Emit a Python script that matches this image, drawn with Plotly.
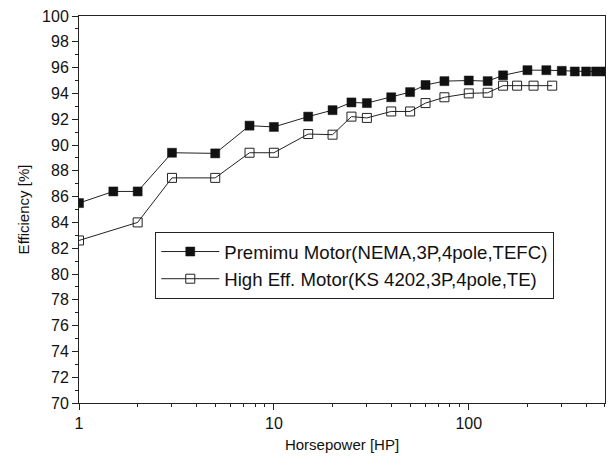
import plotly.graph_objects as go

# Premium motor (NEMA, 3P, 4pole, TEFC)
premium_hp = [1, 1.5, 2, 3, 5, 7.5, 10, 15, 20, 25, 30, 40, 50, 60, 75, 100, 125,
              150, 200, 250, 300, 350, 400, 450, 500]
premium_eff = [85.5, 86.4, 86.4, 89.4, 89.35, 91.5, 91.4, 92.2, 92.7, 93.3, 93.25,
               93.7, 94.1, 94.65, 94.95, 95.0, 94.95, 95.4, 95.8, 95.8, 95.75,
               95.7, 95.7, 95.7, 95.7]

# High efficiency motor (KS 4202, 3P, 4pole, TE)
higheff_hp = [1, 2, 3, 5, 7.5, 10, 15, 20, 25, 30, 40, 50, 60, 75, 100, 125,
              150, 177, 215, 268]
higheff_eff = [82.6, 84.0, 87.45, 87.45, 89.4, 89.4, 90.85, 90.8, 92.2, 92.1,
               92.6, 92.6, 93.25, 93.7, 94.0, 94.05, 94.6, 94.6, 94.6, 94.6]

x_tickvals = [1, 10, 100]
y_range = [70, 100]

font_family = "Liberation Sans, Arial, sans-serif"

fig = go.Figure()
fig.add_trace(go.Scatter(
    x=premium_hp, y=premium_eff, mode="lines+markers",
    name="Premimu Motor(NEMA,3P,4pole,TEFC)",
    line=dict(color="#222222", width=1),
    marker=dict(symbol="square", size=9, color="#111111",
                line=dict(color="#111111", width=0.5)),
))
fig.add_trace(go.Scatter(
    x=higheff_hp, y=higheff_eff, mode="lines+markers",
    name="High Eff. Motor(KS 4202,3P,4pole,TE)",
    line=dict(color="#222222", width=1),
    marker=dict(symbol="square-open", size=9, color="#222222",
                line=dict(color="#222222", width=1)),
))

fig.update_layout(
    width=611, height=468,
    margin=dict(l=79, r=6, t=16, b=65),
    paper_bgcolor="white", plot_bgcolor="white",
    font=dict(family=font_family, size=16, color="#111111"),
    showlegend=True,
    legend=dict(
        x=0.145, y=0.442, xanchor="left", yanchor="top",
        bgcolor="white", bordercolor="#222222", borderwidth=1,
        font=dict(size=18.6, family=font_family, color="#111111"),
        tracegroupgap=0, itemwidth=58,
    ),
)

fig.update_xaxes(
    type="log", range=[0, 2.699],
    tickvals=x_tickvals, ticktext=[str(v) for v in x_tickvals],
    ticks="outside", ticklen=6, tickwidth=1, tickcolor="#222222",
    minor=dict(dtick="D1", ticks="outside", ticklen=3, tickcolor="#222222",
               showgrid=False),
    showline=True, linecolor="#222222", linewidth=1, mirror=True,
    showgrid=False, zeroline=False,
    title=dict(text="Horsepower [HP]", font=dict(size=15), standoff=8),
    automargin=False,
)
fig.update_yaxes(
    range=y_range, dtick=2,
    ticks="outside", ticklen=6, tickwidth=1, tickcolor="#222222",
    minor=dict(dtick=1, ticks="outside", ticklen=3, tickcolor="#222222",
               showgrid=False),
    showline=True, linecolor="#222222", linewidth=1, mirror=True,
    showgrid=False, zeroline=False,
    title=dict(text="Efficiency [%]", font=dict(size=15), standoff=8),
    automargin=False,
)

fig.write_html(
    "out.html",
    config={"displayModeBar": False},
    post_script="document.body.style.margin='0';document.body.style.overflow='hidden';",
)
